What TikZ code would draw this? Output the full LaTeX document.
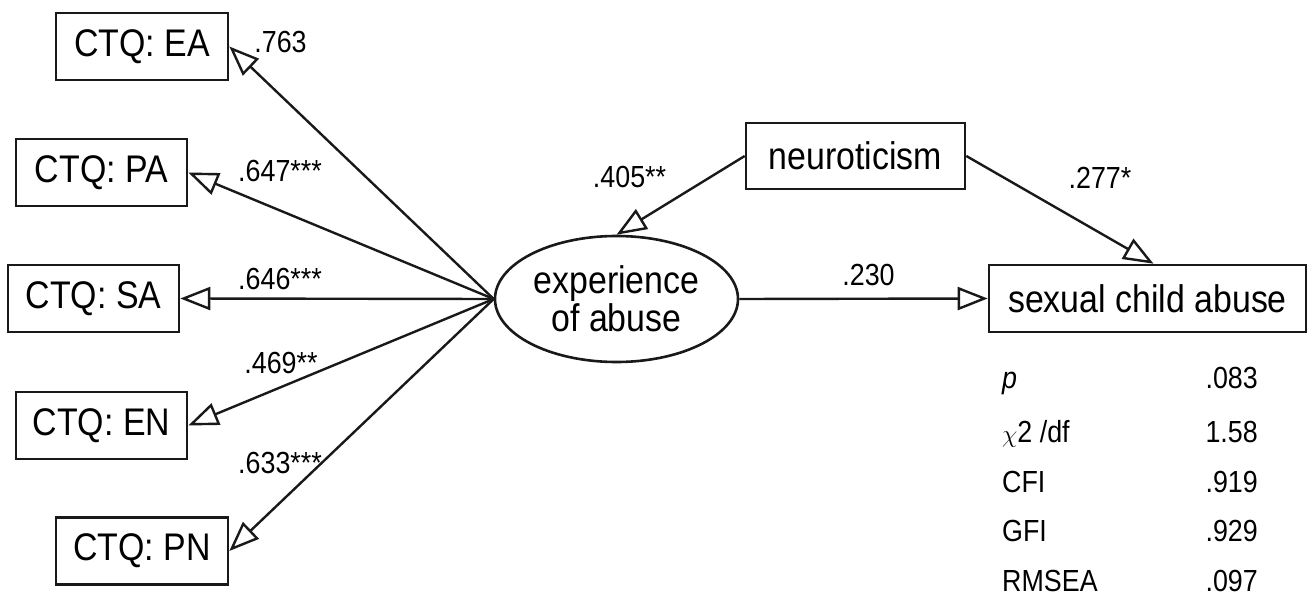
\documentclass[tikz,border=0pt]{standalone}
\usepackage{fontspec}
\setmainfont{Liberation Sans}[FakeStretch=0.88]
\usetikzlibrary{arrows.meta,shapes.geometric,calc}
\begin{document}
\begin{tikzpicture}[x=1pt,y=-1pt,
  box/.style={draw=black!90, line width=2.6pt, rectangle, minimum height=67pt, inner sep=0pt, font=\fontsize{38.5}{44}\selectfont},
  lat/.style={draw=black!90, line width=2.6pt, ellipse, minimum width=243pt, minimum height=126pt, inner sep=0pt, align=center, font=\fontsize{38.5}{38}\selectfont},
  arr/.style={draw=black!90, line width=2.4pt, -{Triangle[open, length=30pt, width=23pt]}},
  lab/.style={inner sep=0pt, font=\fontsize{30.5}{34}\selectfont},
  tab/.style={inner sep=0pt, font=\fontsize{30.5}{34}\selectfont}]
\useasboundingbox (0,0) rectangle (1312,596);
\node[box, minimum width=172pt] (ea) at (142,46.5) {CTQ: EA};
\node[box, minimum width=171pt] (pa) at (101.5,172.5) {CTQ: PA};
\node[box, minimum width=171pt] (sa) at (93.5,298.5) {CTQ: SA};
\node[box, minimum width=171pt] (en) at (101.5,425.5) {CTQ: EN};
\node[box, minimum width=172pt] (pn) at (142,551) {CTQ: PN};
\node[lat] (ell) at (616.5,299) {experience\\of abuse};
\node[box, minimum width=219pt, minimum height=66pt] (neu) at (855.5,156) {neuroticism};
\node[box, minimum width=317pt] (sca) at (1147.5,298.5) {sexual child abuse};
\draw[arr] (ell.west) -- (ea.east);
\draw[arr] (ell.west) -- (pa.east);
\draw[arr] (ell.west) -- (sa.east);
\draw[arr] (ell.west) -- (en.east);
\draw[arr] (ell.west) -- (pn.east);
\draw[arr] (neu.west) -- (ell.north);
\draw[arr] (neu.east) -- ($(sca.north)+(6,0)$);
\draw[arr] (ell.east) -- (sca.west);
\node[lab] (l1) at (280.5,42.5) {.763};
\node[lab] (l2) at (280,171) {.647***};
\node[lab] (l3) at (280,279) {.646***};
\node[lab] (l4) at (281,363) {.469**};
\node[lab] (l5) at (280,463) {.633***};
\node[lab] (l6) at (629.5,177) {.405**};
\node[lab] (l7) at (1100,178) {.277*};
\node[lab] (l8) at (868.5,275) {.230};
\node[tab, anchor=base west] (t1) at (1002,388) {\textit{p}};
\node[tab, anchor=base west] (t2) at (1002,442) {$\chi$2 /df};
\node[tab, anchor=base west] (t3) at (1002,492) {CFI};
\node[tab, anchor=base west] (t4) at (1002,541) {GFI};
\node[tab, anchor=base west] (t5) at (1002,591) {RMSEA};
\node[tab, anchor=base east] (v1) at (1258,388) {.083};
\node[tab, anchor=base east] (v2) at (1258,442) {1.58};
\node[tab, anchor=base east] (v3) at (1258,492) {.919};
\node[tab, anchor=base east] (v4) at (1258,541) {.929};
\node[tab, anchor=base east] (v5) at (1258,591) {.097};
\end{tikzpicture}
\end{document}
